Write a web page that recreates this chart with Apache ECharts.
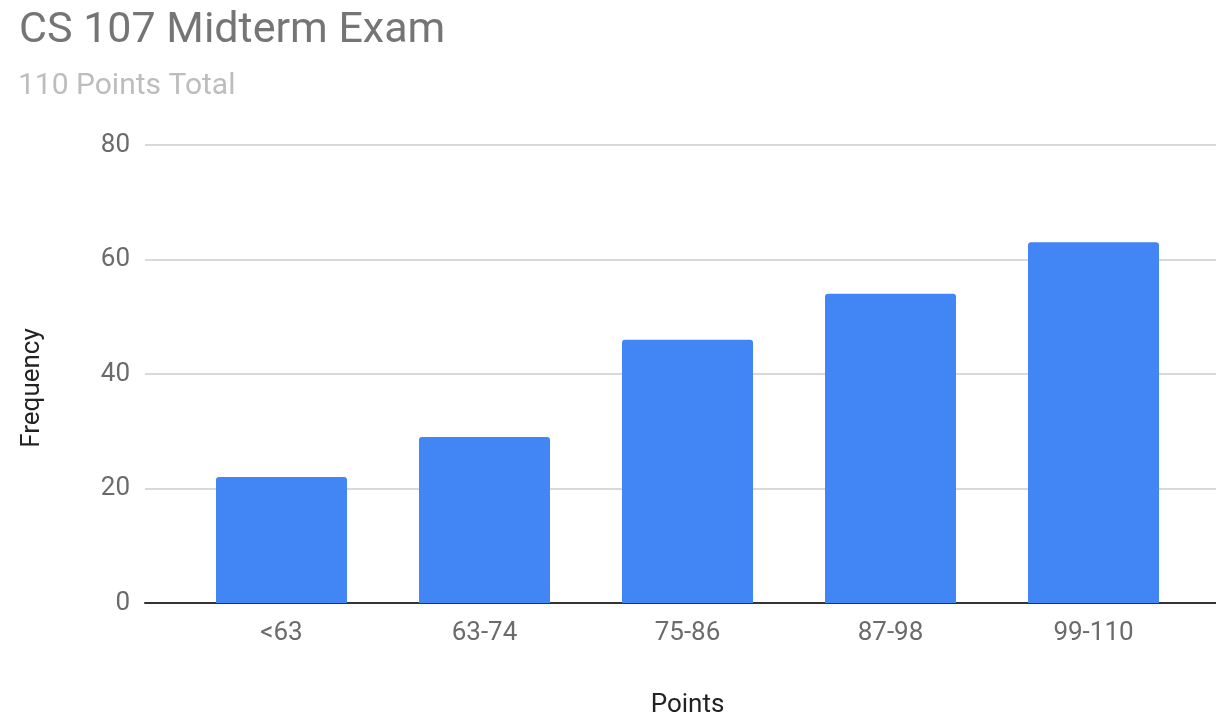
<!DOCTYPE html>
<html><head><meta charset="utf-8">
<script src="https://cdn.jsdelivr.net/npm/echarts@6/dist/echarts.min.js"></script>
<style>html,body{margin:0;padding:0;background:#fff}#c{width:1216px;height:716px}</style>
</head><body><div id="c"></div>
<script>
var categories = ['<63', '63-74', '75-86', '87-98', '99-110'];
var frequency = [22, 29, 46, 54, 63];
var yTicks = {min: 0, max: 80, interval: 20};

var chart = echarts.init(document.getElementById('c'));
var F = 'Roboto, "Noto Sans", sans-serif';
chart.setOption({
  animation: false,
  title: [
    {text: 'CS 107 Midterm Exam', left: 14, top: 5, textStyle: {fontFamily: F, fontSize: 43, fontWeight: 'normal', color: '#757575'}},
    {text: '110 Points Total', left: 13, top: 66, textStyle: {fontFamily: F, fontSize: 30, fontWeight: 'normal', color: '#bdbdbd'}}
  ],
  grid: [
    {left: 145, right: 0, top: 145, bottom: 113, outerBoundsMode: 'none', containLabel: false},
    {left: 180, width: 1015, top: 145, bottom: 113, outerBoundsMode: 'none', containLabel: false}
  ],
  xAxis: [
    {gridIndex: 0, type: 'value', min: 0, max: 1, axisLine: {show: true, onZero: false, lineStyle: {color: '#333', width: 2}},
     axisTick: {show: false}, axisLabel: {show: false}, splitLine: {show: false}},
    {gridIndex: 1, type: 'category', data: categories, axisLine: {show: false}, axisTick: {show: false},
     axisLabel: {fontFamily: F, fontSize: 26, color: '#6b6b6b', margin: 17},
     name: 'Points', nameLocation: 'middle', nameGap: 89,
     nameTextStyle: {fontFamily: F, fontSize: 26, color: '#222'}}
  ],
  yAxis: [
    {gridIndex: 0, type: 'value', min: yTicks.min, max: yTicks.max, interval: yTicks.interval,
     axisLine: {show: false}, axisTick: {show: false},
     axisLabel: {fontFamily: F, fontSize: 26, color: '#6b6b6b', margin: 15},
     splitLine: {lineStyle: {color: '#cccccc', width: 1.5}}},
    {gridIndex: 1, type: 'value', min: yTicks.min, max: yTicks.max, interval: yTicks.interval, show: false, splitLine: {show: false}}
  ],
  graphic: [
    {type: 'text', x: 32, y: 388, rotation: Math.PI / 2,
     style: {text: 'Frequency', font: '26px ' + F, fill: '#222', textAlign: 'center', textVerticalAlign: 'middle'}}
  ],
  series: [
    {type: 'bar', xAxisIndex: 1, yAxisIndex: 1, data: frequency, barWidth: 131,
     itemStyle: {color: '#4285f4', borderRadius: [3, 3, 0, 0]}}
  ]
});
</script></body></html>
